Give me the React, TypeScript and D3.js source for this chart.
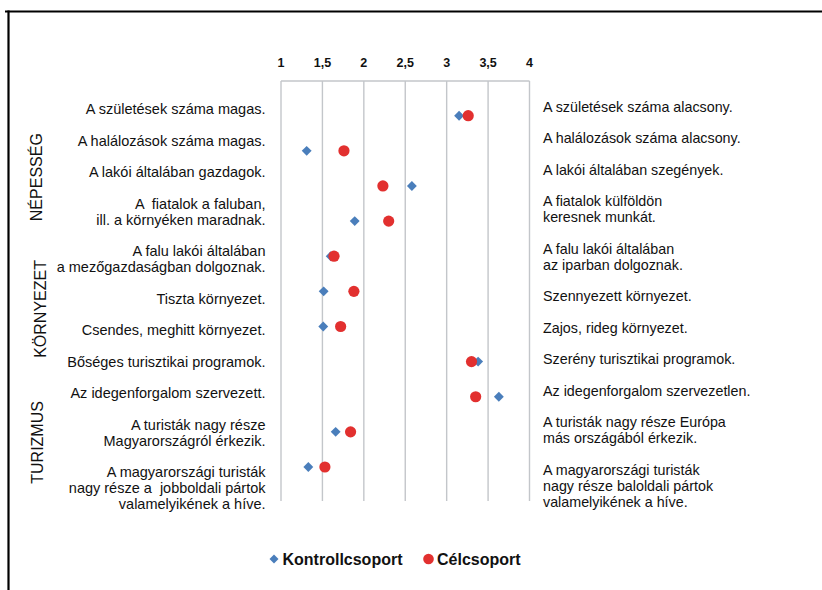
import * as d3 from 'd3';

// --- adatok ---
const leftLabels: string[][] = [
  ['A születések száma magas.'],
  ['A halálozások száma magas.'],
  ['A lakói általában gazdagok.'],
  ['A  fiatalok a faluban,', 'ill. a környéken maradnak.'],
  ['A falu lakói általában', 'a mezőgazdaságban dolgoznak.'],
  ['Tiszta környezet.'],
  ['Csendes, meghitt környezet.'],
  ['Bőséges turisztikai programok.'],
  ['Az idegenforgalom szervezett.'],
  ['A turisták nagy része', 'Magyarországról érkezik.'],
  ['A magyarországi turisták', 'nagy része a  jobboldali pártok', 'valamelyikének a híve.'],
];

const rightLabels: string[][] = [
  ['A születések száma alacsony.'],
  ['A halálozások száma alacsony.'],
  ['A lakói általában szegények.'],
  ['A fiatalok külföldön', 'keresnek munkát.'],
  ['A falu lakói általában', 'az iparban dolgoznak.'],
  ['Szennyezett környezet.'],
  ['Zajos, rideg környezet.'],
  ['Szerény turisztikai programok.'],
  ['Az idegenforgalom szervezetlen.'],
  ['A turisták nagy része Európa', 'más országából érkezik.'],
  ['A magyarországi turisták', 'nagy része baloldali pártok', 'valamelyikének a híve.'],
];

const kontroll = [3.15, 1.31, 2.58, 1.89, 1.6, 1.515, 1.51, 3.38, 3.63, 1.66, 1.33];
const celcsoport = [3.26, 1.76, 2.23, 2.3, 1.64, 1.88, 1.72, 3.3, 3.35, 1.84, 1.53];

const tickValues = [1, 1.5, 2, 2.5, 3, 3.5, 4];

const groups = [
  { name: 'NÉPESSÉG', row: 1.75, dx: 36 },
  { name: 'KÖRNYEZET', row: 5.5, dx: 40 },
  { name: 'TURIZMUS', row: 9.3, dx: 37 },
];

const BLUE = '#4a7ebb';
const RED = '#e2302f';
const FONT = '"Liberation Sans", Arial, sans-serif';

// szöveg blokkok egymás alatt
function stackLines(labels: string[][], startY: number, lineStep: number, blockStep: number) {
  const out: { text: string; y: number }[] = [];
  let y = startY - blockStep;
  labels.forEach((lines) => {
    y += blockStep;
    lines.forEach((t, j) => {
      if (j > 0) y += lineStep;
      out.push({ text: t, y });
    });
  });
  return out;
}

export default function App() {
  const width = 822;
  const height = 590;

  const x = d3.scaleLinear().domain([1, 4]).range([281, 529.5]);
  const y = d3
    .scalePoint<number>()
    .domain(d3.range(kontroll.length))
    .range([115.7, 467]);
  const rowStep = y.step();

  const gridTop = 81;
  const gridBottom = 501;

  const leftLines = stackLines(leftLabels, 109, 16, 31.5);
  const rightLines = stackLines(rightLabels, 106.5, 16, 31.5);

  const diamond = d3.symbol().type(d3.symbolDiamond2).size(62)();
  const legendDiamond = d3.symbol().type(d3.symbolDiamond2).size(52)();

  return (
    <svg
      width={width}
      height={height}
      style={{ position: 'absolute', left: 0, top: 0, background: '#fff' }}
      fontFamily={FONT}
    >
      <rect width={width} height={height} fill="#fff" />
      {/* keret */}
      <line x1={5} x2={width} y1={11.5} y2={11.5} stroke="#000" strokeWidth={2.2} />
      <line x1={8.5} x2={8.5} y1={10.5} y2={height} stroke="#000" strokeWidth={2.2} />

      {/* rács */}
      {tickValues.map((t) => (
        <line
          key={'g' + t}
          x1={x(t)}
          x2={x(t)}
          y1={gridTop}
          y2={gridBottom}
          stroke="#c3c6ca"
          strokeWidth={1.4}
        />
      ))}
      <line x1={x(1)} x2={x(4)} y1={gridTop} y2={gridTop} stroke="#c3c6ca" strokeWidth={1.4} />
      {tickValues.map((t) => (
        <text
          key={'t' + t}
          x={x(t)}
          y={67}
          textAnchor="middle"
          fontSize={12.5}
          fontWeight="bold"
          fill="#111"
        >
          {String(t).replace('.', ',')}
        </text>
      ))}

      {/* csoport címkék */}
      {groups.map((g) => (
        <text
          key={g.name}
          transform={`translate(${g.dx},${y(0)! + g.row * rowStep}) rotate(-90)`}
          textAnchor="middle"
          dominantBaseline="central"
          fontSize={16}
          fill="#111"
        >
          {g.name}
        </text>
      ))}

      {/* bal oldali állítások */}
      {leftLines.map((l, i) => (
        <text
          key={'l' + i}
          x={265.5}
          y={l.y}
          textAnchor="end"
          dominantBaseline="central"
          fontSize={14.5}
          fill="#111"
          style={{ whiteSpace: 'pre' }}
        >
          {l.text}
        </text>
      ))}

      {/* jobb oldali állítások */}
      {rightLines.map((l, i) => (
        <text
          key={'r' + i}
          x={543}
          y={l.y}
          dominantBaseline="central"
          fontSize={14.3}
          fill="#111"
          style={{ whiteSpace: 'pre' }}
        >
          {l.text}
        </text>
      ))}

      {/* pontok */}
      {kontroll.map((v, i) => (
        <path key={'k' + i} d={diamond!} transform={`translate(${x(v)},${y(i)})`} fill={BLUE} />
      ))}
      {celcsoport.map((v, i) => (
        <circle key={'c' + i} cx={x(v)} cy={y(i)} r={5.6} fill={RED} />
      ))}

      {/* jelmagyarázat */}
      <g transform="translate(0,559)">
        <path d={legendDiamond!} transform="translate(274,0)" fill={BLUE} />
        <text x={282.5} dominantBaseline="central" fontSize={16} fontWeight="bold" fill="#111">
          Kontrollcsoport
        </text>
        <circle cx={428.5} cy={0} r={5.3} fill={RED} />
        <text x={437} dominantBaseline="central" fontSize={16} fontWeight="bold" fill="#111">
          Célcsoport
        </text>
      </g>
    </svg>
  );
}
